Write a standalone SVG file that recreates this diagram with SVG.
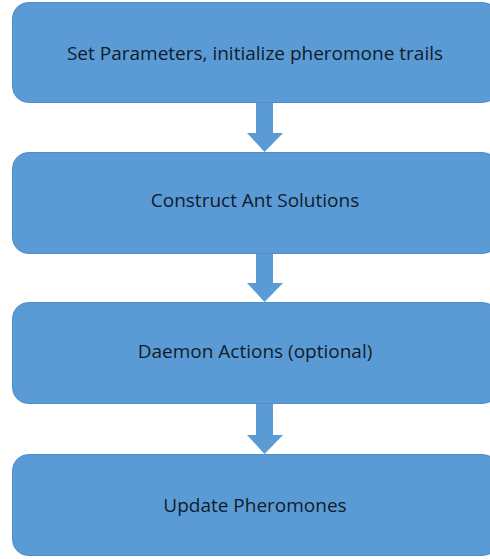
<svg xmlns="http://www.w3.org/2000/svg" width="490" height="559" viewBox="0 0 490 559">
<style>
.box{fill:#5b9bd5;stroke:#4f8ccb;stroke-width:1}
.lbl{font-family:"Open Sans","Liberation Sans",Arial,sans-serif;font-size:19px;fill:#0f1c2c;text-anchor:middle}
.arr{fill:#5b9bd5}
</style>
<rect width="490" height="559" fill="#ffffff"/>
<g id="connectors">
<polygon class="arr" points="256,102 273,102 273,133 283,133 264.5,152 247,133 256,133"/>
<polygon class="arr" points="256,253 273,253 273,283 283,283 264.5,302 247,283 256,283"/>
<polygon class="arr" points="256,404 273,404 273,435 283,435 264.5,454 247,435 256,435"/>
</g>
<g id="n1"><rect class="box" x="12.5" y="2.5" width="486" height="100" rx="16"/><text class="lbl" x="255" y="60">Set Parameters, initialize pheromone trails</text></g>
<g id="n2"><rect class="box" x="12.5" y="152.5" width="486" height="101" rx="16"/><text class="lbl" x="255" y="207">Construct Ant Solutions</text></g>
<g id="n3"><rect class="box" x="12.5" y="302.5" width="486" height="101" rx="16"/><text class="lbl" x="255" y="358">Daemon Actions (optional)</text></g>
<g id="n4"><rect class="box" x="12.5" y="454.5" width="486" height="101" rx="16"/><text class="lbl" x="255" y="512">Update Pheromones</text></g>
</svg>
